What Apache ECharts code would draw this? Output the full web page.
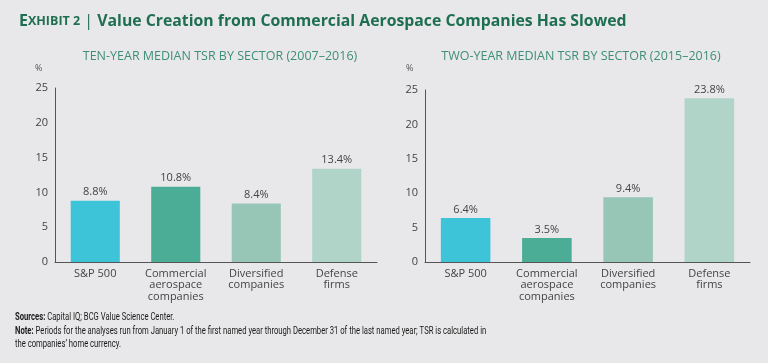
<!DOCTYPE html>
<html><head><meta charset="utf-8">
<script src="https://cdn.jsdelivr.net/npm/echarts@6/dist/echarts.min.js"></script>
<style>html,body{margin:0;padding:0;background:#E8E8EA;}#c{width:768px;height:363px;}</style>
</head><body><div id="c"></div>
<script>
const categories = ['S&P 500', 'Commercial\naerospace\ncompanies', 'Diversified\ncompanies', 'Defense\nfirms'];
const tenYearTSR = [8.8, 10.8, 8.4, 13.4];
const twoYearTSR = [6.4, 3.5, 9.4, 23.8];
const barColors = ['#3EC4D9', '#4BAD95', '#97C6B7', '#B0D4C8'];
const yTicks = [0, 5, 10, 15, 20, 25];

const FONT = '"Open Sans", Roboto, sans-serif';
const chart = echarts.init(document.getElementById('c'), null, {renderer: 'canvas'});

function mkData(vals) {
  return vals.map((v, i) => ({value: v, itemStyle: {color: barColors[i]}}));
}
function xAxis(gi) {
  return {
    type: 'category', gridIndex: gi, data: categories,
    axisLine: {lineStyle: {color: '#555', width: 1}},
    axisTick: {show: false},
    axisLabel: {color: '#444', fontSize: 11, fontFamily: FONT, lineHeight: 11.5, margin: 6, interval: 0}
  };
}
function yAxis(gi) {
  return {
    type: 'value', gridIndex: gi, min: yTicks[0], max: yTicks[yTicks.length - 1], interval: 5,
    axisLine: {show: true, lineStyle: {color: '#555', width: 1}},
    axisTick: {show: false},
    splitLine: {show: false},
    axisLabel: {color: '#444', fontSize: 11, fontFamily: FONT, margin: 7}
  };
}
function series(gi, vals) {
  return {
    type: 'bar', xAxisIndex: gi, yAxisIndex: gi, data: mkData(vals), barWidth: '61%',
    label: {show: true, position: 'top', distance: 3, color: '#444', fontSize: 11, fontFamily: FONT,
      formatter: p => p.value.toFixed(1) + '%'}
  };
}

chart.setOption({
  backgroundColor: '#E8E8EA',
  animation: false,
  title: [
    {text: '{a|E}{b|XHIBIT 2}{c| | }{d|Value Creation from Commercial Aerospace Companies Has Slowed}',
     left: 14, top: 8,
     textStyle: {rich: {
       a: {fontSize: 16, fontWeight: 'bold', color: '#1E6E50', fontFamily: FONT},
       b: {fontSize: 12.5, fontWeight: 'bold', color: '#1E6E50', fontFamily: FONT},
       c: {fontSize: 16, fontWeight: 'normal', color: '#1E6E50', fontFamily: FONT},
       d: {fontSize: 15.8, fontWeight: 'bold', color: '#1E6E50', fontFamily: FONT}
     }}},
    {text: 'TEN-YEAR MEDIAN TSR BY SECTOR (2007–2016)', left: 215, top: 45, textAlign: 'center',
     textStyle: {fontSize: 12.5, fontWeight: 'normal', color: '#3E8E78', fontFamily: FONT}},
    {text: 'TWO-YEAR MEDIAN TSR BY SECTOR (2015–2016)', left: 576, top: 45, textAlign: 'center',
     textStyle: {fontSize: 12.5, fontWeight: 'normal', color: '#3E8E78', fontFamily: FONT}}
  ],
  graphic: [
    {type: 'text', left: 35, top: 64, style: {text: '%', fontSize: 9, fill: '#555', fontFamily: FONT}},
    {type: 'text', left: 406, top: 64, style: {text: '%', fontSize: 9, fill: '#555', fontFamily: FONT}},
    {type: 'text', x: 15, y: 311, scaleX: 0.73, style: {
      text: '{b|Sources:} Capital IQ; BCG Value Science Center.\n{b|Note:} Periods for the analyses run from January 1 of the first named year through December 31 of the last named year; TSR is calculated in\nthe companies’ home currency.',
      fontSize: 10.5, lineHeight: 13.5, fill: '#1a1a1a', fontFamily: 'Roboto, sans-serif',
      rich: {b: {fontWeight: 'bold', fontSize: 10.5, fill: '#1a1a1a', fontFamily: 'Roboto, sans-serif'}}
    }}
  ],
  grid: [
    {left: 55, right: 391, top: 88, bottom: 101, containLabel: false},
    {left: 425, right: 18, top: 90, bottom: 101, containLabel: false}
  ],
  xAxis: [xAxis(0), xAxis(1)],
  yAxis: [yAxis(0), yAxis(1)],
  series: [series(0, tenYearTSR), series(1, twoYearTSR)]
});
</script></body></html>
